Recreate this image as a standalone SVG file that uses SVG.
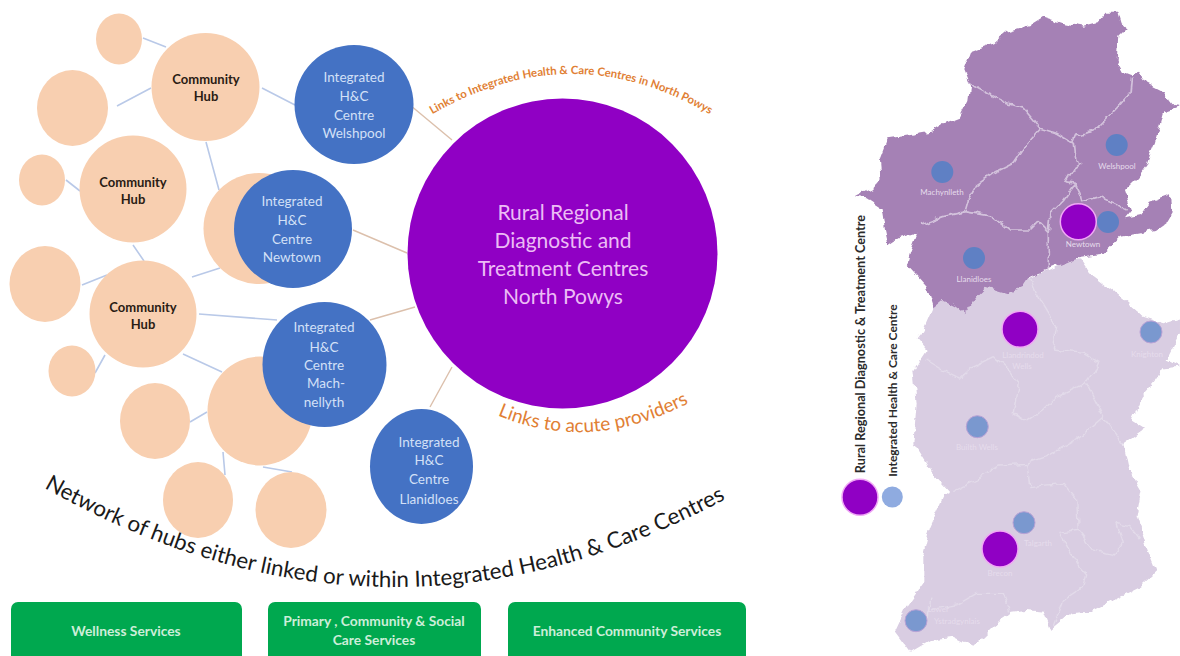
<svg xmlns="http://www.w3.org/2000/svg" width="1180" height="656" viewBox="0 0 1180 656">
<style>
text{font-family:"Lato","Open Sans","Liberation Sans",sans-serif;text-anchor:middle}
.peach{fill:#f8cfb0}
.blue{fill:#4472c4}
.hubt{font-size:13px;font-weight:700;fill:#2a1c14}
.bt{font-size:13.5px;fill:#d3e0f7}
.gt{font-size:13.8px;font-weight:700;fill:#cdeed9}
.pt{font-size:21px;fill:#ecbcf5}
.g{fill:#00a84f}
.c1{stroke:#b9c9e8;stroke-width:1.6;fill:none}
.c2{stroke:#dcc0ac;stroke-width:1.4;fill:none}
.ib{fill:none;stroke:#d3c2dc;stroke-width:5;stroke-linejoin:round}
.ib2{fill:none;stroke:#e3dbea;stroke-width:4;stroke-linejoin:round}
.mk{stroke:#b9a2d6;stroke-width:1}
.rr{fill:#9000c4;stroke:#f0a8f5;stroke-width:1.5}
.ml{font-size:8px;fill:#e6dcec}
.lg{font-weight:700;fill:#2b2b2b}
.or{fill:#e17f35}
</style>
<defs>
<path id="arcTop" d="M426,118 Q572,30 716,118"/>
<path id="arcAcute" d="M490,412 Q590,458 696,399"/>
<path id="arcNet" d="M24,476 Q385,692 746,488"/>
<filter id="rough" x="-5%" y="-5%" width="110%" height="110%"><feTurbulence type="fractalNoise" baseFrequency=".035" numOctaves="2" seed="4"/><feDisplacementMap in="SourceGraphic" scale="22" xChannelSelector="R" yChannelSelector="G"/></filter>
</defs>
<g id="connectors">
<path class="c1" d="M143,38L166,47M117,106L151,88M262,88L295,105M206,142L219,190M66,180L80,191M133,245L144,261M82,285L107,275M192,277L220,268M199,314L277,320M95,373L105,355M183,354L222,372M190,422L207,412M223,452L225,475M263,467L292,472"/>
<path class="c2" d="M410,105L452,140M353,230L407,253M370,320L415,307M430,407L452,367"/>
</g>
<g id="leaf-1"><ellipse class="peach" cx="119" cy="39" rx="23" ry="25.500"/></g>
<g id="leaf-2"><ellipse class="peach" cx="72.500" cy="108" rx="35.500" ry="38"/></g>
<g id="hub-1"><circle class="peach" cx="205.500" cy="87" r="54"/><text class="hubt" x="206" y="84">Community</text><text class="hubt" x="206" y="101">Hub</text></g>
<g id="leaf-3"><ellipse class="peach" cx="42" cy="180" rx="23" ry="25.500"/></g>
<g id="hub-2"><circle class="peach" cx="133" cy="189" r="53.500"/><text class="hubt" x="133" y="187">Community</text><text class="hubt" x="133" y="204">Hub</text></g>
<g id="leaf-4"><circle class="peach" cx="259" cy="228.500" r="55.500"/></g>
<g id="leaf-5"><ellipse class="peach" cx="45" cy="284" rx="35.500" ry="38"/></g>
<g id="hub-3"><circle class="peach" cx="143" cy="314" r="53.500"/><text class="hubt" x="143" y="312">Community</text><text class="hubt" x="143" y="329">Hub</text></g>
<g id="leaf-6"><ellipse class="peach" cx="72" cy="371" rx="23.500" ry="25.500"/></g>
<g id="leaf-7"><ellipse class="peach" cx="260" cy="411" rx="52.500" ry="54.500"/></g>
<g id="leaf-8"><ellipse class="peach" cx="155" cy="421" rx="35" ry="38"/></g>
<g id="leaf-9"><ellipse class="peach" cx="198" cy="500" rx="35" ry="38"/></g>
<g id="leaf-10"><ellipse class="peach" cx="291" cy="510" rx="35.500" ry="38"/></g>
<g id="welshpool"><circle class="blue" cx="354" cy="104.500" r="59.500"/>
<text class="bt" x="354" y="82">Integrated</text><text class="bt" x="354" y="101">H&amp;C</text><text class="bt" x="354" y="120">Centre</text><text class="bt" x="354" y="138">Welshpool</text></g>
<g id="newtown"><circle class="blue" cx="293" cy="229" r="59"/>
<text class="bt" x="292" y="206">Integrated</text><text class="bt" x="292" y="225">H&amp;C</text><text class="bt" x="292" y="244">Centre</text><text class="bt" x="292" y="262">Newtown</text></g>
<g id="machynlleth"><ellipse class="blue" cx="324.500" cy="364.500" rx="62" ry="62.500"/>
<text class="bt" x="324" y="332">Integrated</text><text class="bt" x="324" y="352">H&amp;C</text><text class="bt" x="324" y="370">Centre</text><text class="bt" x="326" y="388">Mach-</text><text class="bt" x="324" y="407">nellyth</text></g>
<g id="llanidloes"><ellipse class="blue" cx="421.500" cy="466.500" rx="51.500" ry="57.500"/>
<text class="bt" x="429" y="447">Integrated</text><text class="bt" x="429" y="465">H&amp;C</text><text class="bt" x="429" y="484">Centre</text><text class="bt" x="429" y="504">Llanidloes</text></g>
<g id="regional-centre"><circle cx="562.500" cy="253.500" r="155" fill="#9000c4"/>
<text class="pt" x="563" y="220">Rural Regional</text><text class="pt" x="563" y="248">Diagnostic and</text><text class="pt" x="563" y="276">Treatment Centres</text><text class="pt" x="563" y="304">North Powys</text></g>
<text class="or" font-size="11.400" font-weight="700"><textPath href="#arcTop" startOffset="50%">Links to Integrated Health &amp; Care Centres in North Powys</textPath></text>
<text class="or" font-size="19"><textPath href="#arcAcute" startOffset="50%">Links to acute providers</textPath></text>
<text font-size="22.300" fill="#1a1a1a"><textPath href="#arcNet" startOffset="50%">Network of hubs either linked or within Integrated Health &amp; Care Centres</textPath></text>
<g id="box-wellness"><rect class="g" x="11" y="602" width="231" height="60" rx="7"/><text class="gt" x="126" y="636">Wellness Services</text></g>
<g id="box-primary"><rect class="g" x="268" y="602" width="213" height="60" rx="7"/><text class="gt" x="374" y="626">Primary , Community &amp; Social</text><text class="gt" x="374" y="645">Care Services</text></g>
<g id="box-enhanced"><rect class="g" x="508" y="602" width="238" height="60" rx="7"/><text class="gt" x="627" y="636">Enhanced Community Services</text></g>
<g id="map-south" transform="translate(830,300) scale(.3333)">
<path filter="url(#rough)" fill="#d9cde2" d="M750,-125L780,-80L860,-20L940,50L1000,70L1050,55L1050,100L1010,180L1050,200L1000,205L970,250L935,290L905,360L945,385L880,430L895,500L935,570L920,650L950,740L980,815L930,860L850,900L780,935L720,940L660,990L640,935L590,930L545,935L490,980L430,1040L370,1010L300,1020L240,1055L195,995L230,920L280,850L280,760L300,680L340,590L360,575L300,510L250,430L260,310L250,210L290,150L260,115L280,90L310,20L340,-20L600,-70Z"/>
<path class="ib2" filter="url(#rough)" d="M600,-70L620,-20L680,80L670,150L760,160L810,190L765,250L680,290L640,330L590,365L550,340L565,250L540,215L490,170L430,200L390,235L340,210L290,180M770,250L820,350L880,430M820,350L740,420L650,470L590,490L510,495L440,540L370,575M590,490L600,560L700,550L740,600L745,690L690,700L740,790L770,825L760,860L700,900L670,980M745,690L790,750L850,765L880,730L860,670L900,680L930,720M300,890L290,960M300,930L380,915L440,880L520,880L540,935"/>
</g>
<g id="map-north" transform="translate(830,0) scale(.3333)" filter="url(#rough)">
<path fill="#a581b5" d="M640,50L700,70L760,80L800,70L830,35L865,35L875,70L890,85L865,110L860,180L880,215L905,225L925,215L950,250L1000,275L1030,315L1050,318L1000,335L985,390L975,430L960,465L950,495L925,530L885,570L905,630L885,655L930,645L960,605L1020,583L1025,640L1010,665L975,690L930,700L870,710L815,765L770,770L740,775L700,790L650,810L600,830L580,860L535,880L470,860L440,890L405,940L380,920L340,900L310,925L290,860L230,795L240,760L265,695L205,715L175,735L165,690L155,625L110,595L75,590L130,565L155,535L150,480L175,415L245,405L300,395L340,370L390,350L415,300L420,260L400,210L420,155L490,130L530,95L600,75Z"/>
<path class="ib" d="M415,250L470,280L530,310L580,325L610,360L630,385L680,400L730,430L740,405L790,395L855,330L900,280L905,230M730,430L735,480L755,495L720,520L705,545L735,550L750,580L755,605L810,590L850,610L890,630M630,385L590,430L550,490L490,520L440,555L415,600L405,635M270,675L340,650L405,635L490,650L540,690L600,690L625,665L655,695L660,640L700,600L735,550M655,695L655,805"/>
</g>
<g id="map-labels">
<text class="ml" x="1117" y="169">Welshpool</text><text class="ml" x="942" y="195">Machynlleth</text><text class="ml" x="974" y="282">Llanidloes</text><text class="ml" x="1083" y="247">Newtown</text>
<text class="ml" x="1023" y="358">Llandrindod</text><text class="ml" x="1022" y="369">Wells</text><text class="ml" x="1147" y="357">Knighton</text><text class="ml" x="977" y="450">Builth Wells</text><text class="ml" x="1038" y="546">Talgarth</text><text class="ml" x="1000" y="576">Brecon</text><text class="ml" x="938" y="612">Lower</text><text class="ml" x="957" y="624">Ystradgynlais</text>
</g>
<g id="map-markers">
<circle cx="1116.700" cy="145" r="11" fill="#5f80c4"/><circle cx="942.300" cy="172" r="11" fill="#5f80c4"/><circle cx="974" cy="258" r="11" fill="#5f80c4"/><circle cx="1108" cy="222" r="11" fill="#5f80c4"/>
<circle class="mk" cx="1151" cy="332" r="11" fill="#7a98cf"/><circle class="mk" cx="977.300" cy="426.700" r="11" fill="#7a98cf"/><circle class="mk" cx="1024" cy="522.700" r="11" fill="#7a98cf"/><circle class="mk" cx="916" cy="620.700" r="11" fill="#7a98cf"/>
<circle class="rr" cx="1078.300" cy="221.700" r="18"/><circle class="rr" cx="1020" cy="329.300" r="18"/><circle class="rr" cx="1000" cy="549" r="18"/>
</g>
<g id="legend">
<circle class="rr" cx="860" cy="497.300" r="18"/><circle cx="892.300" cy="497" r="10.500" fill="#8fabe0"/>
<text class="lg" font-size="12.700" transform="translate(865,344) rotate(-90)">Rural Regional Diagnostic &amp; Treatment Centre</text>
<text class="lg" font-size="12" transform="translate(897,390.500) rotate(-90)">Integrated Health &amp; Care Centre</text>
</g>
</svg>
